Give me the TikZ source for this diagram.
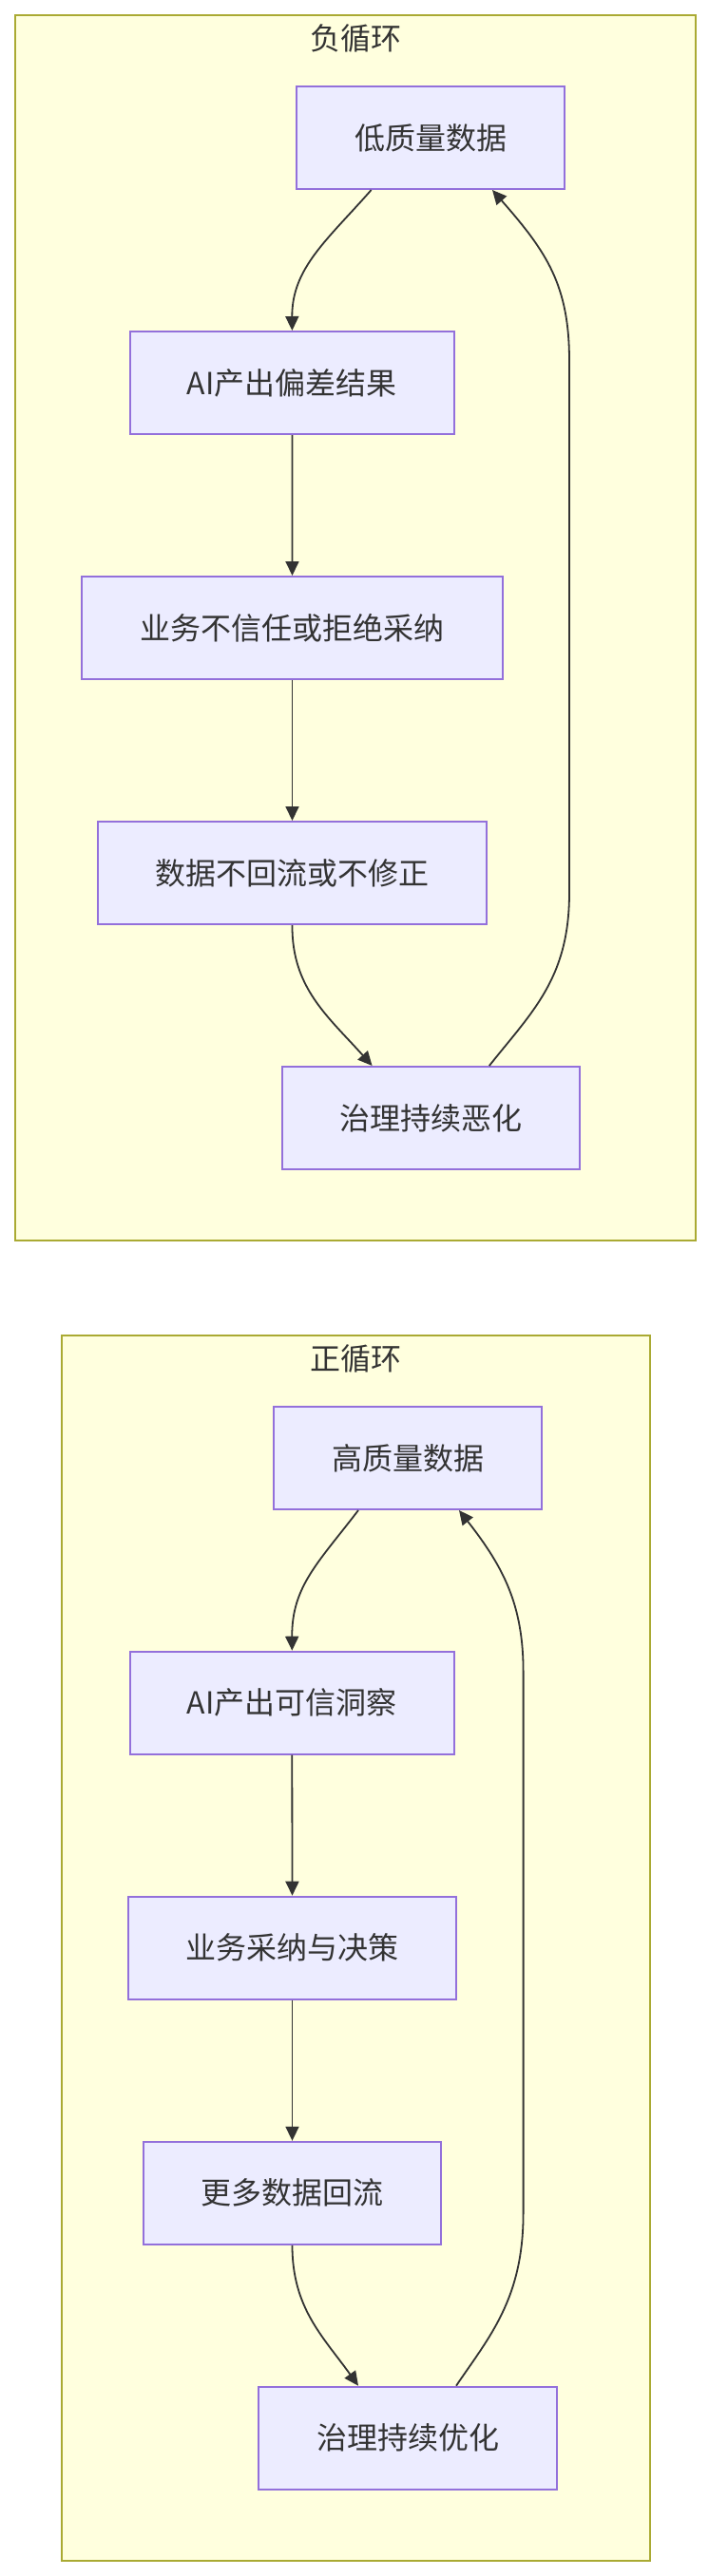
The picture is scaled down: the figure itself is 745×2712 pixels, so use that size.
\documentclass[tikz,border=0pt]{standalone}
\usepackage{fontspec}
\setmainfont{Noto Sans CJK SC}
\usetikzlibrary{arrows.meta}
\definecolor{nodefill}{HTML}{ECECFF}
\definecolor{nodeline}{HTML}{9370DB}
\definecolor{clfill}{HTML}{FFFFDE}
\definecolor{clline}{HTML}{AAAA33}
\definecolor{ink}{HTML}{333333}
\tikzset{
  box/.style={draw=nodeline, fill=nodefill, line width=2pt, minimum height=108pt,
    inner sep=0pt, text=ink, font=\fontsize{32pt}{38pt}\selectfont},
  cluster/.style={draw=clline, fill=clfill, line width=2pt},
  ctitle/.style={text=ink, font=\fontsize{32pt}{38pt}\selectfont, inner sep=0pt},
  edge/.style={draw=ink, line width=1.8pt, -{Triangle[length=15pt,width=14pt]}},
}
\begin{document}
\begin{tikzpicture}[x=1pt,y=-1pt]
\useasboundingbox (0,0) rectangle (745,2712);
\fill[white] (0,0) rectangle (745,2712);
% clusters
\draw[cluster] (15.8,15.7) rectangle (732,1305.7);
\node[ctitle] (t1) at (374,40) {负循环};
\draw[cluster] (64.5,1406) rectangle (684,2695.7);
\node[ctitle] (t2) at (374,1430) {正循环};
% negative loop nodes
\node[box, minimum width=282pt] (a1) at (453,145) {低质量数据};
\node[box, minimum width=341.4pt] (a2) at (307.4,403) {AI产出偏差结果};
\node[box, minimum width=442.2pt] (a3) at (307.5,661) {业务不信任或拒绝采纳};
\node[box, minimum width=409.7pt] (a4) at (307.5,919) {数据不回流或不修正};
\node[box, minimum width=313.7pt] (a5) at (453.5,1177) {治理持续恶化};
% positive loop nodes
\node[box, minimum width=282pt] (b1) at (429,1535) {高质量数据};
\node[box, minimum width=341.4pt] (b2) at (307.3,1792.7) {AI产出可信洞察};
\node[box, minimum width=345.7pt] (b3) at (307.5,2050.7) {业务采纳与决策};
\node[box, minimum width=313pt] (b4) at (307.5,2308.8) {更多数据回流};
\node[box, minimum width=314pt] (b5) at (429,2566.7) {治理持续优化};
% negative loop edges
\draw[edge] ([xshift=-62.4pt]a1.south) .. controls (345,252) and (307,282) .. (a2.north);
\draw[edge] (a2.south) -- (a3.north);
\draw[edge] (a3.south) -- (a4.north);
\draw[edge] (a4.south) .. controls (307,1040) and (345,1070) .. ([xshift=-61.9pt]a5.north);
\draw[edge] ([xshift=61.3pt]a5.north) .. controls (560,1065) and (599,1030) .. (599,940)
  -- (599,380) .. controls (599,300) and (575,265) .. ([xshift=65pt]a1.south);
% positive loop edges
\draw[edge] ([xshift=-52pt]b1.south) .. controls (335,1645) and (307,1670) .. (b2.north);
\draw[edge] (b2.south) -- (b3.north);
\draw[edge] (b3.south) -- (b4.north);
\draw[edge] (b4.south) .. controls (307.5,2430) and (340,2460) .. ([xshift=-52pt]b5.north);
\draw[edge] ([xshift=51pt]b5.north) .. controls (515,2460) and (550.6,2420) .. (550.6,2330)
  -- (550.6,1760) .. controls (550.6,1690) and (530,1650) .. ([xshift=54pt]b1.south);
\end{tikzpicture}
\end{document}
